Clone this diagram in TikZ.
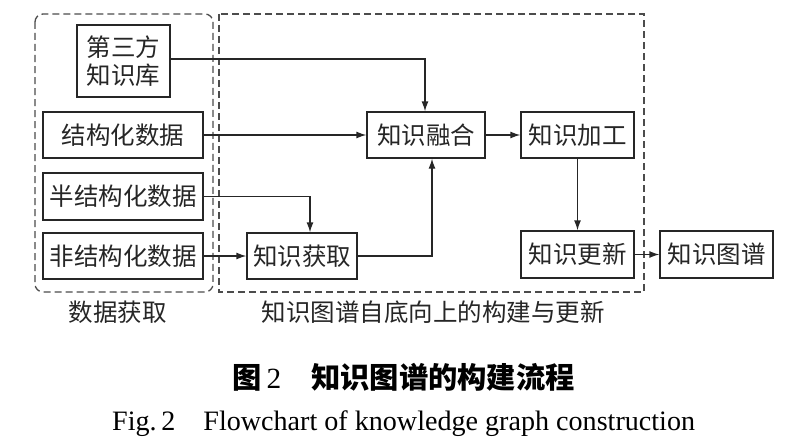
\documentclass[tikz,border=0pt]{standalone}
\usepackage{fontspec}
\setmainfont{Liberation Serif}
\newfontfamily\cjk{Noto Sans CJK SC}
\usetikzlibrary{arrows.meta}
\tikzset{
  box/.style={draw=black!85, line width=1.3pt, inner sep=0pt, font=\cjk\fontsize{24.5}{28}\selectfont, text=black!85, align=center},
  arr/.style={draw=black!85, line width=1.3pt, -{Latex[length=10pt,width=7pt]}},
  grp/.style={draw=black!70, line width=1.3pt, dash pattern=on 7pt off 4pt},
  lbl/.style={font=\cjk\fontsize{24.5}{28}\selectfont, text=black!85, inner sep=0pt}
}
\begin{document}
\begin{tikzpicture}[x=1pt,y=-1pt]
\useasboundingbox (0,0) rectangle (794,444);
\draw[grp, rounded corners=8pt] (35,14) rectangle (213,292);
\draw[grp] (219,14) rectangle (644,292);
\node[box, minimum width=93pt, minimum height=72pt] (tpk) at (123.5,61) {第三方\\知识库};
\node[box, minimum width=160pt, minimum height=46pt] (sd) at (123,135) {结构化数据};
\node[box, minimum width=160pt, minimum height=47pt] (ssd) at (123,196.5) {半结构化数据};
\node[box, minimum width=160pt, minimum height=46pt] (usd) at (123,256) {非结构化数据};
\node[box, minimum width=110pt, minimum height=46pt] (acq) at (302,256) {知识获取};
\node[box, minimum width=118pt, minimum height=46pt] (fus) at (426,135) {知识融合};
\node[box, minimum width=113pt, minimum height=46pt] (proc) at (577.5,135) {知识加工};
\node[box, minimum width=113pt, minimum height=47pt] (upd) at (577.5,254.5) {知识更新};
\node[box, minimum width=113pt, minimum height=47pt] (kg) at (716.5,254.5) {知识图谱};
\draw[arr] ([yshift=2pt]tpk.east) -| ([xshift=-1pt]fus.north);
\draw[arr] (sd.east) -- (fus.west);
\draw[arr] (ssd.east) -| ([xshift=8pt]acq.north);
\draw[arr] (usd.east) -- (acq.west);
\draw[arr] (acq.east) -| ([xshift=6pt]fus.south);
\draw[arr] (fus.east) -- (proc.west);
\draw[arr] (proc.south) -- (upd.north);
\draw[arr] (upd.east) -- (kg.west);
\node[lbl] (l1) at (117.5,312) {数据获取};
\node[lbl] (l2) at (433,312) {知识图谱自底向上的构建与更新};
\node[inner sep=0pt, anchor=west, font=\fontsize{29.3}{30}\selectfont] (cap1) at (232,377) {{\cjk\bfseries 图}\hspace{5pt}2\hspace{30pt}{\cjk\bfseries 知识图谱的构建流程}};
\node[inner sep=0pt, anchor=base west, font=\fontsize{28.1}{30}\selectfont] (cap2) at (112,430) {Fig.\,2\hspace{28pt}Flowchart of knowledge graph construction};
\end{tikzpicture}
\end{document}
